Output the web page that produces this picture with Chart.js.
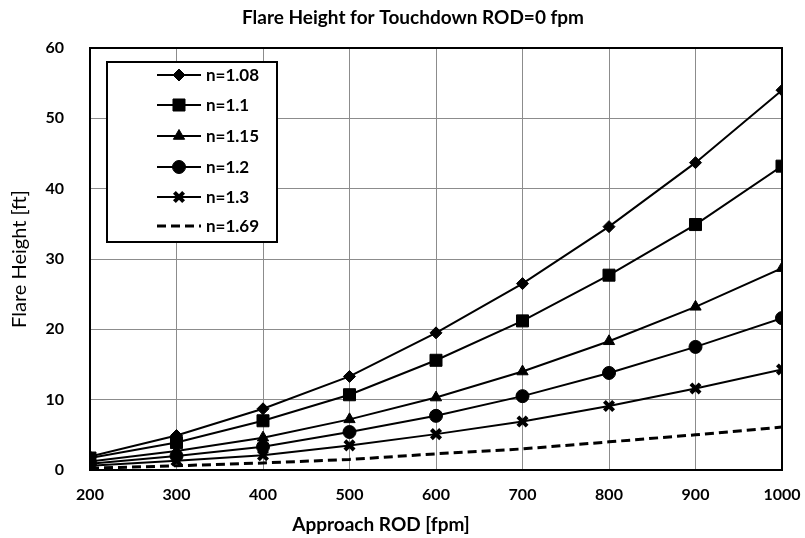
<!DOCTYPE html>
<html>
<head>
<meta charset="utf-8">
<script src="https://cdn.jsdelivr.net/npm/chart.js@4.4.1/dist/chart.umd.min.js"></script>
<style>
  html, body { margin: 0; padding: 0; background: #fff; }
  #wrap { width: 805px; height: 538px; }
</style>
</head>
<body>
<div id="wrap"><canvas id="c" width="805" height="538"></canvas></div>
<script>
// ---- data ----
const approachROD = [200, 300, 400, 500, 600, 700, 800, 900, 1000];
const seriesLabels = ['n=1.08', 'n=1.1', 'n=1.15', 'n=1.2', 'n=1.3', 'n=1.69'];
const n108 = [1.9, 4.9, 8.7, 13.3, 19.5, 26.5, 34.6, 43.7, 54.0];
const n110 = [1.7, 3.9, 7.0, 10.7, 15.6, 21.2, 27.7, 34.9, 43.2];
const n115 = [1.2, 2.7, 4.6, 7.2, 10.3, 14.0, 18.3, 23.2, 28.7];
const n120 = [0.9, 2.0, 3.3, 5.4, 7.7, 10.5, 13.8, 17.5, 21.6];
const n130 = [0.6, 1.3, 2.1, 3.5, 5.1, 6.9, 9.1, 11.6, 14.3];
const n169 = [0.25, 0.6, 1.0, 1.5, 2.3, 3.0, 4.0, 5.0, 6.1];
const yTicks = [0, 10, 20, 30, 40, 50, 60];
const chartTitle = 'Flare Height for Touchdown ROD=0 fpm';
const xTitle = 'Approach ROD [fpm]';
const yTitle = 'Flare Height [ft]';

const FONT = 'Lato, "Open Sans", sans-serif';

function pts(arr) { return approachROD.map((x, i) => ({ x: x, y: arr[i] })); }

const styles = [
  { values: n108, pointStyle: 'rectRot', radius: 6, dash: [], width: 2 },
  { values: n110, pointStyle: 'rect', radius: 8.5, dash: [], width: 2 },
  { values: n115, pointStyle: 'triangle', radius: 6.5, dash: [], width: 2 },
  { values: n120, pointStyle: 'circle', radius: 6.5, dash: [], width: 2 },
  { values: n130, pointStyle: 'crossRot', radius: 6.5, dash: [], width: 2, pbw: 4 },
  { values: n169, pointStyle: false, radius: 0, dash: [9, 5], width: 3 }
];

const datasets = styles.map((s, i) => ({
  label: seriesLabels[i],
  data: pts(s.values),
  borderColor: '#000',
  backgroundColor: '#000',
  borderWidth: s.width,
  borderDash: s.dash,
  pointStyle: s.pointStyle,
  pointRadius: s.radius,
  pointHoverRadius: s.radius,
  pointBorderWidth: s.pbw || 1,
  pointBorderColor: '#000',
  pointBackgroundColor: '#000',
  tension: 0,
  fill: false
}));

const frameAndLegend = {
  id: 'frameAndLegend',
  afterDatasetsDraw(chart) {
    const ctx = chart.ctx;
    const a = chart.chartArea;
    ctx.save();
    // plot frame
    ctx.strokeStyle = '#000';
    ctx.lineWidth = 2;
    ctx.strokeRect(a.left, a.top, a.right - a.left, a.bottom - a.top);
    // legend box
    const bx = 107, by = 62, bw = 170, bh = 180;
    ctx.fillStyle = '#fff';
    ctx.fillRect(bx, by, bw, bh);
    ctx.strokeRect(bx, by, bw, bh);
    const rowY = [75, 105, 136, 167, 197, 226];
    chart.data.datasets.forEach((ds, i) => {
      const y = rowY[i];
      ctx.save();
      ctx.strokeStyle = '#000';
      ctx.lineWidth = ds.borderWidth;
      ctx.setLineDash(ds.borderDash || []);
      ctx.beginPath();
      ctx.moveTo(157, y);
      ctx.lineTo(201, y);
      ctx.stroke();
      ctx.restore();
      if (ds.pointStyle) {
        ctx.save();
        ctx.fillStyle = '#000';
        ctx.strokeStyle = '#000';
        ctx.lineWidth = ds.pointBorderWidth;
        Chart.helpers.drawPoint(ctx, { pointStyle: ds.pointStyle, radius: ds.pointRadius, rotation: 0, borderWidth: ds.pointBorderWidth }, 179, y);
        ctx.restore();
      }
      ctx.fillStyle = '#000';
      ctx.font = 'bold 17px ' + FONT;
      ctx.textAlign = 'left';
      ctx.textBaseline = 'middle';
      ctx.fillText(ds.label, 206, y + 1);
    });
    // chart title and x-axis title
    ctx.fillStyle = '#000';
    ctx.textAlign = 'center';
    ctx.textBaseline = 'middle';
    ctx.font = 'bold 19px ' + FONT;
    ctx.fillText(chartTitle, 413, 18);
    ctx.font = 'bold 19px ' + FONT;
    ctx.fillText(xTitle, 381, 525);
    ctx.restore();
  }
};

new Chart(document.getElementById('c'), {
  type: 'line',
  data: { datasets: datasets },
  plugins: [frameAndLegend],
  options: {
    responsive: false,
    animation: false,
    devicePixelRatio: 1,
    layout: { padding: { left: 8, right: 23, top: 48, bottom: 0 } },
    plugins: {
      legend: { display: false },
      tooltip: { enabled: false },
      title: { display: false }
    },
    scales: {
      x: {
        type: 'linear',
        min: approachROD[0],
        max: approachROD[approachROD.length - 1],
        afterFit(s) { s.height = 68; s.paddingLeft = 0; s.paddingRight = 0; },
        ticks: {
          stepSize: 100,
          color: '#000',
          padding: 15,
          callback: v => String(v),
          font: { family: FONT, size: 16, weight: 'bold' }
        },
        afterBuildTicks(s) { s.ticks = approachROD.map(v => ({ value: v })); },
        grid: { color: '#8c8c8c', lineWidth: 1, drawTicks: false },
        border: { display: false },
        title: { display: false }
      },
      y: {
        min: 0,
        max: 60,
        afterFit(s) { s.width = 82; s.paddingTop = 0; s.paddingBottom = 0; },
        afterBuildTicks(s) { s.ticks = yTicks.map(v => ({ value: v })); },
        ticks: {
          stepSize: 10,
          color: '#000',
          padding: 26,
          font: { family: FONT, size: 16, weight: 'bold' }
        },
        grid: { color: '#8c8c8c', lineWidth: 1, drawTicks: false },
        border: { display: false },
        title: {
          display: true,
          text: yTitle,
          color: '#000',
          font: { family: FONT, size: 20, weight: 'normal', lineHeight: 1.2 },
          padding: { top: 0, bottom: 0 }
        }
      }
    }
  }
});
</script>
</body>
</html>
